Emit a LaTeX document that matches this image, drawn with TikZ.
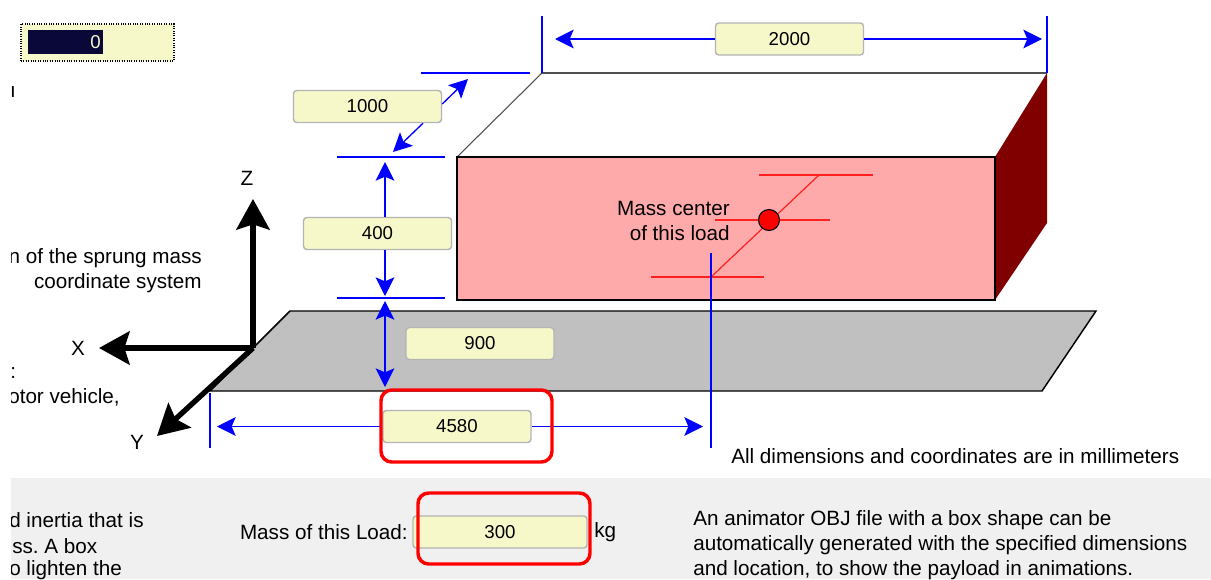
\documentclass[tikz,border=0pt]{standalone}
\usepackage{fontspec}
\setmainfont{Liberation Sans}
\usetikzlibrary{arrows.meta,calc}
\frenchspacing
\definecolor{valfill}{HTML}{F7F8CA}
\definecolor{valedge}{HTML}{B4B4B4}
\definecolor{pinkface}{HTML}{FFAAAA}
\definecolor{sideface}{HTML}{800000}
\definecolor{plate}{HTML}{C0C0C0}
\definecolor{panelgray}{HTML}{F0F0F0}
\definecolor{navy}{HTML}{0A0838}
\definecolor{dimblue}{HTML}{0000FF}
\definecolor{massred}{HTML}{FF2020}
\definecolor{topedge}{HTML}{505050}
\newcommand\mainfnt{\fontsize{15.5}{18.75}\selectfont}
\newcommand\numfnt{\fontsize{14}{17}\selectfont}
\tikzset{
  valbox/.style={draw=valedge, line width=1.1pt, fill=valfill, rounded corners=2.5pt,
    minimum width=111pt, minimum height=24pt, inner sep=0pt, font=\numfnt},
  dimline/.style={draw=dimblue, line width=1pt},
  dimarrow/.style={dimline, -{Stealth[length=14pt,width=14pt,inset=3pt]}},
  dimboth/.style={dimline, {Stealth[length=14pt,width=14pt,inset=3pt]}-{Stealth[length=14pt,width=14pt,inset=3pt]}},
  axisarrow/.style={line width=4pt, -{Stealth[length=23pt,width=25pt,inset=4pt]}},
  hilite/.style={draw=red, line width=2.6pt, rounded corners=8pt},
  txt/.style={font=\mainfnt, inner sep=0pt},
  redline/.style={draw=massred, line width=0.9pt}
}
\begin{document}
\begin{tikzpicture}[x=0.75pt,y=-0.75pt]
% canvas
\path[use as bounding box, fill=white] (0,0) rectangle (1211,579);
% bottom panel
\fill[panelgray] (11,478) rectangle (1211,579);

% platform
\coordinate (p1) at (290,311);
\coordinate (p2) at (1096,311);
\coordinate (p3) at (1042,391);
\coordinate (p4) at (210,391);
\draw[fill=plate, line width=1.1pt] (p1) -- (p2) -- (p3) -- (p4) -- cycle;

% load box
\coordinate (b1) at (457,157);
\coordinate (b2) at (995,157);
\coordinate (b3) at (995,300);
\coordinate (b4) at (457,300);
\coordinate (k1) at (542,73);
\coordinate (k2) at (1047,73);
\coordinate (k3) at (1047,223);
\fill[white] (k1) -- (k2) -- (b2) -- (b1) -- cycle;
\draw[line width=0.8pt, draw=topedge] (b1) -- (k1);
\draw[line width=2pt, draw=topedge] (k1) -- (k2);
\fill[sideface] (b2) -- (k2) -- (k3) -- (b3) -- cycle;
\draw[fill=pinkface, line width=1.1pt] (b1) rectangle (b3);

% mass center marks
\coordinate (mc) at (769,220);
\coordinate (dgt) at (819,175);
\coordinate (dgb) at (711,277);
\draw[redline] (759,175) -- (873,175);
\draw[redline] (715,220) -- (830,220);
\draw[redline] (651,277) -- (764,277);
\draw[redline] (dgt) -- (dgb);
\draw[fill=red, line width=0.8pt] (mc) circle[radius=10.5];
\node[txt, align=right, anchor=east] (mclab) at (730,220.5) {Mass center\\of this load};

% extension lines
\coordinate (x2a) at (542,16);
\coordinate (x2b) at (1047,16);
\draw[dimline] (x2a) -- (k1);
\draw[dimline] (x2b) -- (k2);
\coordinate (h1a) at (421,73);  \coordinate (h1b) at (530,73);
\coordinate (h2a) at (337,157); \coordinate (h2b) at (445,157);
\coordinate (h3a) at (337,298); \coordinate (h3b) at (445,298);
\draw[dimline] (h1a) -- (h1b);
\draw[dimline] (h2a) -- (h2b);
\draw[dimline] (h3a) -- (h3b);
\coordinate (v1a) at (210,393); \coordinate (v1b) at (210,448);
\coordinate (v2a) at (711,253); \coordinate (v2b) at (711,448);
\draw[dimline] (v1a) -- (v1b);
\draw[dimline] (v2a) -- (v2b);

% value boxes
\node[valbox] (n2000) at (789.5,39) {2000};
\node[valbox] (n1000) at (367.5,106.5) {1000};
\node[valbox] (n400) at (377.5,233.5) {400};
\node[valbox] (n900) at (480,343.5) {900};
\node[valbox] (n4580) at (457,426.5) {4580};
\node[valbox, minimum width=130.5pt] (n300) at (500,532) {300};

% dimension arrows
\coordinate (t2l) at (555,39);
\coordinate (t2r) at (1042,39);
\draw[dimarrow] (n2000) -- (t2l);
\draw[dimarrow] (n2000) -- (t2r);
\coordinate (t1u) at (468,79);
\coordinate (t1d) at (393,152);
\draw[dimarrow] ($(n1000.east)+(0,-2.5)$) -- (t1u);
\draw[dimarrow] ($(n1000.south)+(55.5,0)$) -- (t1d);
\coordinate (t4u) at (385,162);
\coordinate (t4d) at (385,296);
\draw[dimarrow] (n400.north -| t4u) -- (t4u);
\draw[dimarrow] (n400.south -| t4d) -- (t4d);
\coordinate (t9u) at (385,301);
\coordinate (t9d) at (385,387);
\draw[dimboth] (t9u) -- (t9d);
\coordinate (t45l) at (217,426.5);
\coordinate (t45r) at (703,426.5);
\draw[dimarrow] (n4580) -- (t45l);
\draw[dimarrow] (n4580) -- (t45r);

% highlights
\draw[hilite] (381,390) rectangle (552,462);
\draw[hilite] (418,493) rectangle (590,564);

% axes
\coordinate (O) at (253,348);
\coordinate (zt) at (253,199);
\coordinate (xt) at (99,348);
\coordinate (yt) at (157,436);
\draw[axisarrow] (O) -- (zt);
\draw[axisarrow] (O) -- (xt);
\draw[axisarrow] (O) -- (yt);
\node[txt] (zl) at (247,178) {Z};
\node[txt] (xl) at (78,348) {X};
\node[txt] (yl) at (137,442) {Y};

% top-left widget
\node[draw=black, densely dotted, line width=0.8pt, fill=valfill, minimum width=114.75pt,
  minimum height=27.75pt, inner sep=0pt] (wbox) at (97.5,42.5) {};
\fill[navy] (27.5,30) rectangle (102.5,54);
\node[font=\numfnt, inner sep=0pt, text=valfill, anchor=east] (zero) at (101,42) {0};

% texts
\begin{scope}
\clip (11,0) rectangle (1211,579);
\node[txt] (frag1) at (13,92) {ı};
\node[txt, anchor=east] (s1) at (202,258) {n of the sprung mass};
\node[txt, anchor=east] (s2) at (202,283) {coordinate system};
\node[txt, anchor=west] (c1) at (10,373) {:};
\node[txt, anchor=west] (c2) at (8,397) {otor vehicle,};
\node[txt, anchor=west] (l1) at (9,520) {d inertia that is};
\node[txt, anchor=west] (l2) at (12,546) {ss. A box};
\node[txt, anchor=west] (l3) at (9,570) {o lighten the};
\end{scope}
\node[txt, anchor=west] (alldim) at (731,456) {All dimensions and coordinates are in millimeters};
\node[txt, anchor=east] (masslab) at (408,532) {Mass of this Load:};
\node[txt, anchor=west] (kg) at (594,532) {kg};
\node[txt, anchor=west] (r1) at (693,520) {An animator OBJ file with a box shape can be};
\node[txt, anchor=west] (r2) at (693,545) {automatically generated with the specified dimensions};
\node[txt, anchor=west] (r3) at (693,570) {and location, to show the payload in animations.};
\end{tikzpicture}
\end{document}
